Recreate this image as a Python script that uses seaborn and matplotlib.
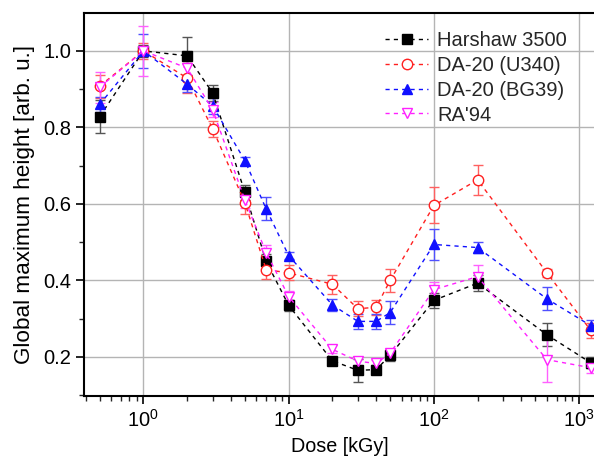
import numpy as np
import pandas as pd
import matplotlib
matplotlib.use("Agg")
import matplotlib.pyplot as plt
import seaborn as sns
from matplotlib.ticker import LogLocator, MultipleLocator, NullFormatter

# ---- data ----
dose = [0.5, 1, 2, 3, 5, 7, 10, 20, 30, 40, 50, 100, 200, 600, 1200]

harshaw = [0.828, 1.0, 0.987, 0.89, 0.63, 0.45, 0.335, 0.19, 0.165, 0.167, 0.204, 0.348, 0.393, 0.258, 0.185]
harshaw_err = [0.043, 0.015, 0.05, 0.02, 0.02, 0.02, 0.015, 0.01, 0.03, 0.012, 0.015, 0.02, 0.02, 0.03, 0.015]

u340 = [0.908, 1.0, 0.929, 0.796, 0.603, 0.428, 0.42, 0.39, 0.326, 0.33, 0.40, 0.596, 0.663, 0.42, 0.27]
u340_err = [0.03, 0.02, 0.04, 0.02, 0.03, 0.025, 0.02, 0.025, 0.02, 0.02, 0.03, 0.047, 0.04, 0.01, 0.02]

bg39 = [0.86, 1.0, 0.913, 0.856, 0.713, 0.587, 0.465, 0.336, 0.293, 0.293, 0.316, 0.494, 0.486, 0.352, 0.282]
bg39_err = [0.02, 0.045, 0.02, 0.02, 0.01, 0.03, 0.01, 0.015, 0.02, 0.02, 0.03, 0.04, 0.015, 0.03, 0.015]

ra94 = [0.905, 1.0, 0.955, 0.846, 0.61, 0.473, 0.358, 0.22, 0.189, 0.183, 0.21, 0.376, 0.41, 0.193, 0.172]
ra94_err = [0.04, 0.065, 0.02, 0.02, 0.02, 0.02, 0.015, 0.01, 0.01, 0.01, 0.01, 0.02, 0.03, 0.058, 0.015]

names = ["Harshaw 3500", "DA-20 (U340)", "DA-20 (BG39)", "RA'94"]
colors = ["black", "#ff2020", "#1010ff", "#ff20ff"]
err_colors = ["#555555", "#ff6060", "#5050ff", "#ff60ff"]
markers = ["s", "o", "^", "v"]
fills = [True, False, True, False]
values = [harshaw, u340, bg39, ra94]
errors = [harshaw_err, u340_err, bg39_err, ra94_err]

sns.set_theme(style="white")
plt.rcParams['font.family'] = ['Liberation Sans', 'DejaVu Sans']
plt.rcParams['mathtext.fontset'] = 'custom'
plt.rcParams['mathtext.rm'] = 'Liberation Sans'

fig = plt.figure(figsize=(5.94, 4.63), dpi=100)
ax = fig.add_axes([84/594, 1 - 396/463, 1 - 84/594 + 0.002, (396 - 13)/463])

for name, vals, errs, col, ecol, mk, fl in zip(names, values, errors, colors, err_colors, markers, fills):
    df = pd.DataFrame({"dose": dose, "val": vals})
    ax.errorbar(dose, vals, yerr=errs, fmt="none", ecolor=ecol, elinewidth=1.0,
                capsize=3.8, capthick=1.0, zorder=2)
    sns.lineplot(data=df, x="dose", y="val", ax=ax, color=col, marker=mk,
                 markersize=7.5 if mk != "s" else 7,
                 markerfacecolor=(col if fl else "white"), markeredgecolor=col,
                 markeredgewidth=1.0, linewidth=1.0, linestyle=(0, (3, 3)),
                 label=name, zorder=3, sort=False, estimator=None)

ax.set_xscale("log")
ax.set_xlim(0.39, 1290)
ax.set_ylim(0.098, 1.099)

ax.yaxis.set_major_locator(MultipleLocator(0.2))
ax.yaxis.set_minor_locator(MultipleLocator(0.1))
ax.yaxis.set_major_formatter(matplotlib.ticker.FormatStrFormatter("%.1f"))
ax.xaxis.set_major_locator(LogLocator(base=10, numticks=10))
ax.xaxis.set_minor_locator(LogLocator(base=10, subs=np.arange(2, 10), numticks=20))
ax.xaxis.set_minor_formatter(NullFormatter())

ax.grid(True, which="major", color="#b4b4b4", linewidth=1.0)
ax.tick_params(which="major", direction="out", length=6, width=1.2, labelsize=14.5,
               bottom=True, left=True, colors="black", pad=3)
ax.tick_params(which="minor", direction="out", length=3.5, width=1.0,
               bottom=True, left=True)
for s in ["left", "bottom", "top"]:
    ax.spines[s].set_color("black")
    ax.spines[s].set_linewidth(1.5)
ax.spines["right"].set_visible(False)

ax.set_xlabel("Dose [kGy]", fontsize=14.2, color="black", labelpad=5)
ax.set_ylabel("Global maximum height [arb. u.]", fontsize=16.2, color="black", labelpad=6)

leg = ax.legend(loc="upper left", bbox_to_anchor=(385/594, 1 - 31/463),
                bbox_transform=fig.transFigure, frameon=False,
                fontsize=14.5, handlelength=2.15, handletextpad=0.45, labelspacing=0.29,
                borderaxespad=0, borderpad=0)

fig.savefig("out.png", dpi=100)
